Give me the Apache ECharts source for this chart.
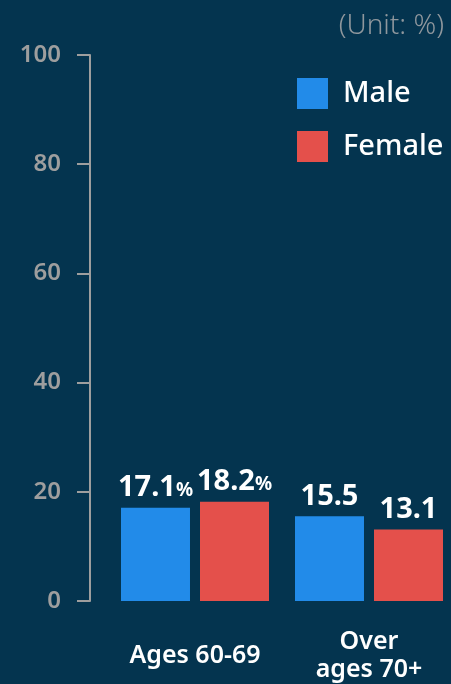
<!DOCTYPE html>
<html>
<head>
<meta charset="utf-8">
<style>
  html, body { margin: 0; padding: 0; background: #04344f; }
  #chart { width: 451px; height: 684px; }
</style>
<script src="https://cdn.jsdelivr.net/npm/echarts@6/dist/echarts.min.js"></script>
</head>
<body>
<div id="chart"></div>
<script>
// Share of people (%) by age group and sex
const categories = ['Ages 60-69', 'Over\nages 70+'];
const maleValues = [17.1, 15.5];
const femaleValues = [18.2, 13.1];
const valueSuffix = ['%', ''];
const yTicks = [0, 20, 40, 60, 80, 100];

const FONT = '"Noto Sans", "Open Sans", sans-serif';
const AXIS_GRAY = '#9e9e9e';

const chart = echarts.init(document.getElementById('chart'), null, { renderer: 'canvas' });

function barLabel(params) {
  const suffix = valueSuffix[params.dataIndex];
  return suffix ? '{v|' + params.value + '}{p|' + suffix + '}' : '{v|' + params.value + '}';
}

const labelRich = {
  v: { fontFamily: FONT, fontSize: 29, fontWeight: 'bold', color: '#ffffff' },
  p: { fontFamily: FONT, fontSize: 19, fontWeight: 'bold', color: '#ffffff', padding: [5, 0, 0, 0] }
};

chart.setOption({
  backgroundColor: '#04344f',
  animation: false,
  title: {
    text: '(Unit: %)',
    right: 2,
    top: 7,
    textStyle: { fontFamily: FONT, fontSize: 28, fontWeight: 300, color: '#8f979d' }
  },
  legend: {
    orient: 'vertical',
    left: 292,
    top: 73,
    icon: 'rect',
    itemWidth: 31,
    itemHeight: 31,
    itemGap: 22,
    data: ['Male', 'Female'],
    textStyle: {
      fontFamily: FONT, fontSize: 29, fontWeight: 500, color: '#ffffff',
      padding: [0, 0, 0, 10]
    }
  },
  grid: [
    { left: 90, right: 0, top: 55, bottom: 83, outerBoundsMode: 'none' },
    { left: 108, width: 348, top: 55, bottom: 83, outerBoundsMode: 'none' }
  ],
  xAxis: [
    { type: 'category', gridIndex: 0, data: categories, show: false },
    {
      type: 'category', gridIndex: 1, data: categories,
      axisLine: { show: false }, axisTick: { show: false },
      axisLabel: {
        margin: 55, verticalAlign: 'middle', lineHeight: 28,
        fontFamily: FONT, fontSize: 25, fontWeight: 600, color: '#ffffff'
      }
    }
  ],
  yAxis: [
    {
      type: 'value', gridIndex: 0, min: 0, max: 100, interval: 20,
      axisLine: { show: true, lineStyle: { color: AXIS_GRAY, width: 2 } },
      axisTick: { show: true, length: 13, lineStyle: { color: AXIS_GRAY, width: 2 } },
      splitLine: { show: false },
      axisLabel: {
        margin: 29,
        fontFamily: FONT, fontSize: 24, fontWeight: 600, color: AXIS_GRAY,
        formatter: v => (yTicks.indexOf(v) >= 0 ? String(v) : '')
      }
    },
    { type: 'value', gridIndex: 1, min: 0, max: 100, interval: 20, show: false }
  ],
  series: [
    {
      name: 'Male', type: 'bar', xAxisIndex: 1, yAxisIndex: 1,
      data: maleValues, barWidth: 69, barGap: '14.5%',
      itemStyle: { color: '#228be9' },
      label: { show: true, position: 'top', distance: 5, formatter: barLabel, rich: labelRich }
    },
    {
      name: 'Female', type: 'bar', xAxisIndex: 1, yAxisIndex: 1,
      data: femaleValues, barWidth: 69, barGap: '14.5%',
      itemStyle: { color: '#e4504b' },
      label: { show: true, position: 'top', distance: 5, formatter: barLabel, rich: labelRich }
    }
  ]
});
</script>
</body>
</html>
